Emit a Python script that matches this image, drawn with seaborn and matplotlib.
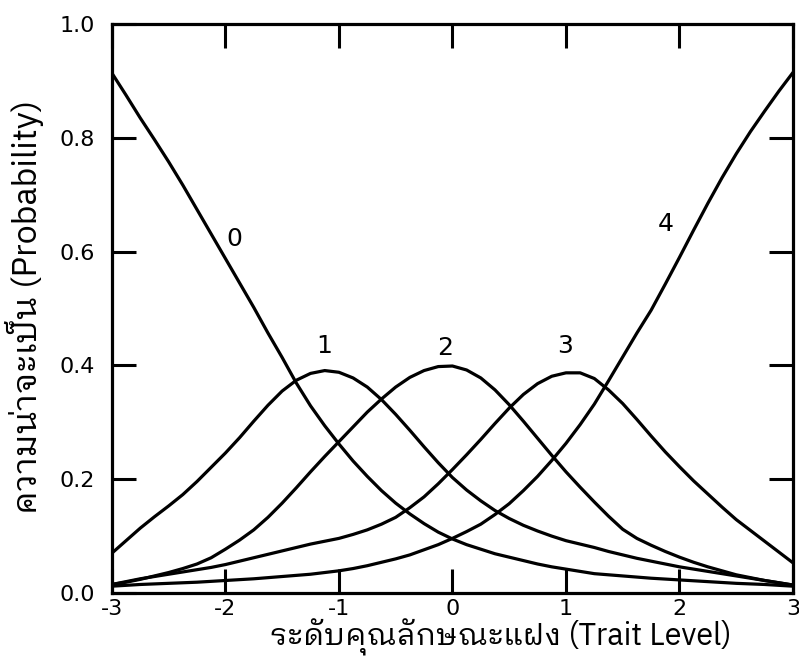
import numpy as np
import pandas as pd
import matplotlib
matplotlib.use("Agg")
import matplotlib.pyplot as plt
import seaborn as sns

# ---- data ----
theta = [-3.0, -2.875, -2.75, -2.625, -2.5, -2.375, -2.25, -2.125, -2.0, -1.875, -1.75, -1.625,
         -1.5, -1.375, -1.25, -1.125, -1.0, -0.875, -0.75, -0.625, -0.5, -0.375, -0.25, -0.125,
         0.0, 0.125, 0.25, 0.375, 0.5, 0.625, 0.75, 0.875, 1.0, 1.125, 1.25, 1.375,
         1.5, 1.625, 1.75, 1.875, 2.0, 2.125, 2.25, 2.375, 2.5, 2.625, 2.75, 2.875, 3.0]
cat0 = [0.914, 0.875, 0.835, 0.797, 0.758, 0.717, 0.674, 0.631, 0.588, 0.545, 0.502, 0.457,
        0.414, 0.369, 0.329, 0.294, 0.262, 0.232, 0.205, 0.180, 0.158, 0.139, 0.122, 0.107,
        0.095, 0.085, 0.077, 0.069, 0.063, 0.057, 0.051, 0.046, 0.042, 0.038, 0.034, 0.032,
        0.030, 0.028, 0.026, 0.0245, 0.023, 0.0215, 0.020, 0.0185, 0.017, 0.016, 0.015, 0.0135, 0.012]
cat1 = [0.070, 0.092, 0.114, 0.134, 0.153, 0.173, 0.196, 0.221, 0.246, 0.273, 0.302, 0.330,
        0.355, 0.374, 0.386, 0.391, 0.388, 0.378, 0.362, 0.340, 0.314, 0.286, 0.257, 0.229,
        0.203, 0.181, 0.162, 0.145, 0.131, 0.119, 0.109, 0.100, 0.092, 0.086, 0.080, 0.073,
        0.067, 0.061, 0.056, 0.051, 0.046, 0.042, 0.038, 0.034, 0.030, 0.026, 0.022, 0.018, 0.014]
cat2 = [0.015, 0.019, 0.024, 0.030, 0.036, 0.043, 0.051, 0.062, 0.077, 0.093, 0.111, 0.133,
        0.158, 0.185, 0.213, 0.240, 0.266, 0.292, 0.318, 0.341, 0.362, 0.379, 0.391, 0.398,
        0.399, 0.392, 0.378, 0.357, 0.331, 0.302, 0.272, 0.242, 0.213, 0.186, 0.160, 0.135,
        0.112, 0.096, 0.084, 0.073, 0.063, 0.054, 0.046, 0.039, 0.032, 0.027, 0.022, 0.018, 0.014]
cat3 = [0.015, 0.020, 0.025, 0.029, 0.033, 0.037, 0.041, 0.045, 0.050, 0.056, 0.062, 0.068,
        0.074, 0.080, 0.086, 0.091, 0.096, 0.103, 0.111, 0.121, 0.133, 0.150, 0.169, 0.192,
        0.217, 0.243, 0.270, 0.298, 0.325, 0.349, 0.368, 0.381, 0.387, 0.387, 0.377, 0.357,
        0.333, 0.305, 0.276, 0.248, 0.222, 0.197, 0.174, 0.151, 0.129, 0.110, 0.091, 0.072, 0.053]
cat4 = [0.012, 0.0135, 0.015, 0.016, 0.017, 0.018, 0.019, 0.0205, 0.022, 0.0235, 0.025, 0.027,
        0.029, 0.031, 0.033, 0.036, 0.039, 0.043, 0.048, 0.054, 0.060, 0.067, 0.076, 0.085,
        0.096, 0.108, 0.121, 0.138, 0.157, 0.180, 0.205, 0.233, 0.263, 0.296, 0.332, 0.373,
        0.415, 0.457, 0.497, 0.543, 0.590, 0.638, 0.685, 0.730, 0.772, 0.811, 0.847, 0.882, 0.915]
categories = ["0", "1", "2", "3", "4"]
label_x = [-1.925, -1.128, -0.064, 0.996, 1.875]
label_y = [0.623, 0.434, 0.431, 0.434, 0.648]
x_ticks = [-3, -2, -1, 0, 1, 2, 3]
y_ticks = [0.0, 0.2, 0.4, 0.6, 0.8, 1.0]
x_label = "ระดับคุณลักษณะแฝง (Trait Level)"
y_label = "ความน่าจะเป็น (Probability)"

sns.set_theme(style="white")
plt.rcParams["font.family"] = ["DejaVu Sans", "Loma"]
label_family = ["IBM Plex Sans Thai Looped", "Loma", "DejaVu Sans"]

series = [cat0, cat1, cat2, cat3, cat4]
df = pd.DataFrame({
    "theta": np.tile(theta, len(categories)),
    "prob": np.concatenate(series),
    "cat": np.repeat(categories, len(theta)),
})

W, H = 799, 660
fig = plt.figure(figsize=(W / 100, H / 100), dpi=100)
ax = fig.add_axes([0.140, 0.1015, 0.8525, 0.862])
sns.lineplot(data=df, x="theta", y="prob", hue="cat", palette=["black"] * 5,
             linewidth=2.3, legend=False, ax=ax, sort=False)

for c, lx, ly in zip(categories, label_x, label_y):
    ax.text(lx, ly, c, fontsize=18, ha="center", va="center", color="black")

ax.set_xlim(-3, 3)
ax.set_ylim(0, 1)
ax.set_xticks(x_ticks)
ax.set_xticklabels([str(t) for t in x_ticks])
ax.set_yticks(y_ticks)
ax.set_yticklabels([f"{t:.1f}" for t in y_ticks])
ax.tick_params(direction="in", length=17, width=2.2, top=True, right=True,
               bottom=True, left=True, labelsize=16, colors="black")
ax.tick_params(axis="x", pad=4)
ax.tick_params(axis="y", pad=12)
for s in ax.spines.values():
    s.set_linewidth(2.3)
    s.set_color("black")
ax.set_xlabel("")
ax.set_ylabel("")

fig.text(501 / W, 1 - 646 / H, x_label, family=label_family, fontsize=22,
         ha="center", va="baseline", color="black")
fig.text(37 / W, 1 - 307 / H, y_label, family=label_family, fontsize=24.5,
         rotation=90, rotation_mode="anchor", ha="center", va="baseline", color="black")

fig.savefig("out.png", dpi=100)
